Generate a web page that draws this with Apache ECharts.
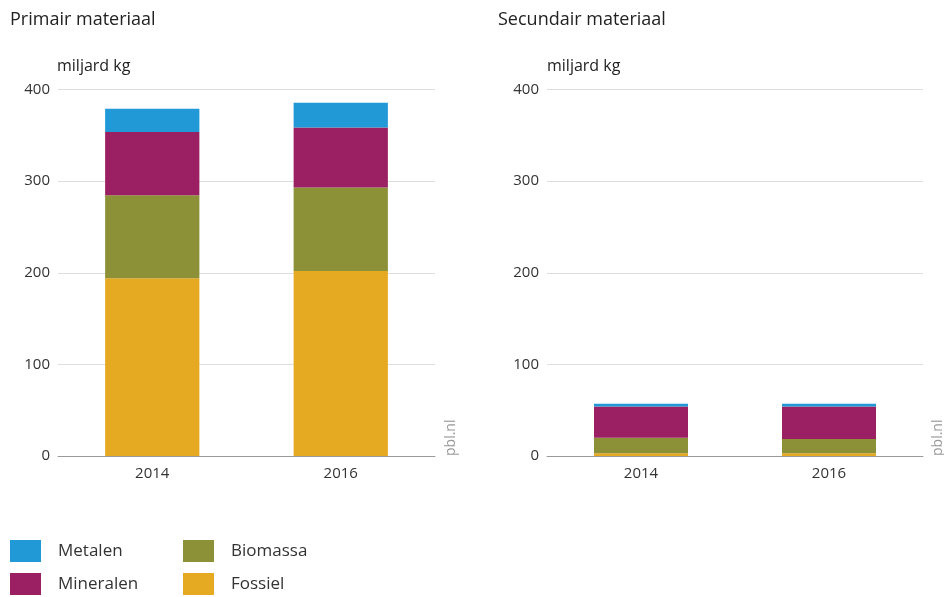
<!DOCTYPE html>
<html><head><meta charset="utf-8">
<script src="https://cdn.jsdelivr.net/npm/echarts@6/dist/echarts.min.js"></script>
<style>html,body{margin:0;padding:0;background:#fff}#c{width:944px;height:597px}</style>
</head><body><div id="c"></div>
<script>
const categories = ['2014', '2016'];
const seriesNames = ['Fossiel', 'Biomassa', 'Mineralen', 'Metalen'];
const primFossiel = [194, 202];
const primBiomassa = [90.5, 91];
const primMineralen = [69, 65.5];
const primMetalen = [25.5, 27];
const secFossiel = [3, 3];
const secBiomassa = [17, 15.5];
const secMineralen = [34, 35.5];
const secMetalen = [3, 3];
const yTicks = [0, 100, 200, 300, 400];
const colors = {Fossiel:'#e6aa22', Biomassa:'#8c9037', Mineralen:'#9b1f63', Metalen:'#2199d6'};
const font = 'Open Sans';

const prim = [primFossiel, primBiomassa, primMineralen, primMetalen];
const sec = [secFossiel, secBiomassa, secMineralen, secMetalen];

function mkX(i){return {type:'category', gridIndex:i, data:categories,
  axisLine:{lineStyle:{color:'#9a9a9a', width:1}}, axisTick:{show:false},
  axisLabel:{color:'#333', fontSize:15, fontFamily:font, margin:10}};}
function mkY(i){return {type:'value', gridIndex:i, min:yTicks[0], max:yTicks[yTicks.length-1], interval:100,
  axisLine:{show:false}, axisTick:{show:false},
  splitLine:{lineStyle:{color:'#dedede', width:1}},
  axisLabel:{color:'#333', fontSize:15, fontFamily:font, margin:8}};}

const series = [];
seriesNames.forEach((n,k)=>{
  series.push({name:n, type:'bar', stack:'p', xAxisIndex:0, yAxisIndex:0, barWidth:'50%', data:prim[k], itemStyle:{color:colors[n]}});
});
seriesNames.forEach((n,k)=>{
  series.push({name:n, type:'bar', stack:'s', xAxisIndex:1, yAxisIndex:1, barWidth:'50%', data:sec[k], itemStyle:{color:colors[n]}});
});

const legendPos = {Metalen:[10,540], Mineralen:[10,573], Biomassa:[183,540], Fossiel:[183,573]};
const legends = Object.keys(legendPos).map(n=>({
  data:[n], left:legendPos[n][0], top:legendPos[n][1], padding:0, itemWidth:31, itemHeight:22, icon:'rect',
  selectedMode:false, textStyle:{color:'#333', fontSize:17, fontFamily:font, padding:[0,0,0,12]}
}));

const chart = echarts.init(document.getElementById('c'));
chart.setOption({
  animation:false,
  grid:[{left:58, width:377, top:89.5, bottom:141},{left:547, width:376, top:89.5, bottom:141}],
  xAxis:[mkX(0), mkX(1)],
  yAxis:[mkY(0), mkY(1)],
  legend:legends,
  graphic:[
    {type:'text', left:10, top:11, style:{text:'Primair materiaal', fontSize:18, fontFamily:font, fill:'#222'}},
    {type:'text', left:498, top:11, style:{text:'Secundair materiaal', fontSize:18, fontFamily:font, fill:'#222'}},
    {type:'text', left:57, top:58, style:{text:'miljard kg', fontSize:16, fontFamily:font, fill:'#222'}},
    {type:'text', left:547, top:58, style:{text:'miljard kg', fontSize:16, fontFamily:font, fill:'#222'}},
    {type:'text', x:444, y:456, rotation:Math.PI/2, style:{text:'pbl.nl', fontSize:14, fontFamily:font, fill:'#999', align:'left', verticalAlign:'top'}},
    {type:'text', x:931, y:456, rotation:Math.PI/2, style:{text:'pbl.nl', fontSize:14, fontFamily:font, fill:'#999', align:'left', verticalAlign:'top'}}
  ],
  series:series
});
</script></body></html>
